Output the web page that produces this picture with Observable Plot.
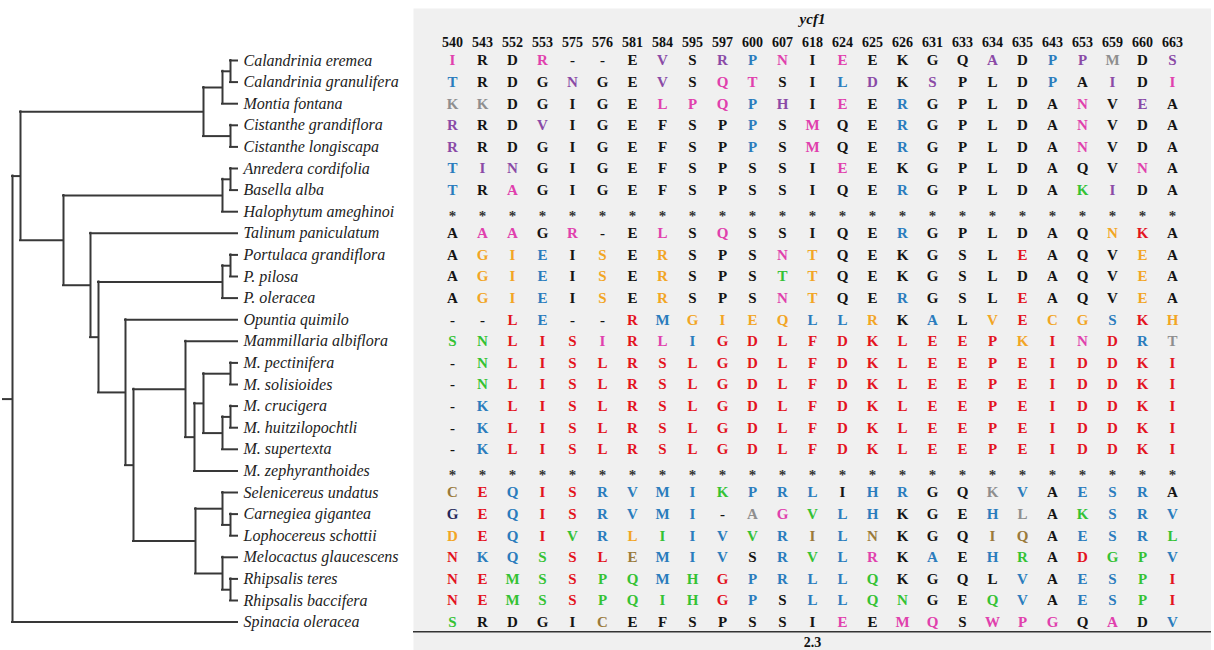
<!DOCTYPE html>
<html><head><meta charset="utf-8">
<script src="https://cdn.jsdelivr.net/npm/d3@7"></script>
<script src="https://cdn.jsdelivr.net/npm/@observablehq/plot@0.6"></script>
<style>
body{margin:0;background:#fff;font-family:"Liberation Serif",serif;}
#wrap{position:relative;width:1214px;height:650px;overflow:hidden;}
#tree{position:absolute;left:0;top:0;}
#aln{position:absolute;left:413px;top:0;}
</style></head><body><div id="wrap"><div id="tree"></div><div id="aln"></div></div>
<script>
// ---------- data ----------
const taxa = ["Calandrinia eremea","Calandrinia granulifera","Montia fontana","Cistanthe grandiflora","Cistanthe longiscapa","Anredera cordifolia","Basella alba","Halophytum ameghinoi","Talinum paniculatum","Portulaca grandiflora","P. pilosa","P. oleracea","Opuntia quimilo","Mammillaria albiflora","M. pectinifera","M. solisioides","M. crucigera","M. huitzilopochtli","M. supertexta","M. zephyranthoides","Selenicereus undatus","Carnegiea gigantea","Lophocereus schottii","Melocactus glaucescens","Rhipsalis teres","Rhipsalis baccifera","Spinacia oleracea"];
const leafParent = ["n_cal","n_cal","n_cm","n_cis","n_cis","n_ab","n_ab","n_bas","n_C","n_pg","n_pg","n_por","n_cact","n_mam","n_ps","n_ps","n_ch","n_ch","n_J","n_H","n_K","n_cl","n_cl","n_M","n_rh","n_rh","root"];
const nodeIds    = ["root","n_in","n_mont","n_cm","n_cal","n_cis","n_B","n_bas","n_ab","n_C","n_D","n_por","n_pg","n_cact","n_F","n_mam","n_H","n_I","n_ps","n_J","n_ch","n_L","n_K","n_cl","n_M","n_rh"];
const nodeParent = [null,"root","n_in","n_mont","n_cm","n_mont","n_in","n_B","n_bas","n_B","n_C","n_D","n_por","n_D","n_cact","n_F","n_mam","n_H","n_I","n_I","n_J","n_F","n_L","n_K","n_L","n_M"];
const nodeDepth  = [0,8,191,210,218,218,51,210,218,78,86,210,218,113,121,173,182,191,218,210,218,183,210,218,210,218];
const tipDepth = 225;
const rootStub = 9;
const treeScaleLabel = "2.3";
const gene = "ycf1";

const positions = ["540","543","552","553","575","576","581","584","595","597","600","607","618","624","625","626","631","633","634","635","643","653","659","660","663"];
const residues = [
 "IRDR--EVSRPNIEEKGQADPPMDS",
 "TRDGNGEVSQTSILDKSPLDPAIDI",
 "KKDGIGELPQPHIEERGPLDANVEA",
 "RRDVIGEFSPPSMQERGPLDANVDA",
 "RRDGIGEFSPPSMQERGPLDANVDA",
 "TINGIGEFSPSSIEEKGPLDAQVNA",
 "TRAGIGEFSPSSIQERGPLDAKIDA",
 "*************************",
 "AAAGR-ELSQSSIQERGPLDAQNKA",
 "AGIEISERSPSNTQEKGSLEAQVEA",
 "AGIEISERSPSTTQEKGSLDAQVEA",
 "AGIEISERSPSNTQERGSLEAQVEA",
 "--LE--RMGIEQLLRKALVECGSKH",
 "SNLISIRLIGDLFDKLEEPKINDRT",
 "-NLISLRSLGDLFDKLEEPEIDDKI",
 "-NLISLRSLGDLFDKLEEPEIDDKI",
 "-KLISLRSLGDLFDKLEEPEIDDKI",
 "-KLISLRSLGDLFDKLEEPEIDDKI",
 "-KLISLRSLGDLFDKLEEPEIDDKI",
 "*************************",
 "CEQISRVMIKPRLIHRGQKVAESRA",
 "GEQISRVMI-AGVLHKGEHLAKSRV",
 "DEQIVRLIIVVRILNKGQIQAESRL",
 "NKQSSLEMIVSRVLRKAEHRADGPV",
 "NEMSSPQMHGPRLLQKGQLVAESPI",
 "NEMSSPQIHGPSLLQNGEQVAESPI",
 "SRDGICEFSPSSIEEMQSWPGQADV"];
// residue class codes (one per residue)
const groups = [
 "pkkpkkkukubpkpkkkkukbugku",
 "bkkkukkukppkkbukukkkbkukp",
 "ggkkkkkpppbukpkbkkkkkpkuk",
 "ukkukkkkkkbkpkkbkkkkkpkkk",
 "ukkkkkkkkkbkpkkbkkkkkpkkk",
 "buukkkkkkkkkkpkkkkkkkkkpk",
 "bkpkkkkkkkkkkkkbkkkkknukk",
 "kkkkkkkkkkkkkkkkkkkkkkkkk",
 "kppkpkkpkpkkkkkbkkkkkkork",
 "koobkokokkkpokkkkkkrkkkok",
 "koobkokokkknokkkkkkkkkkok",
 "koobkokokkkpokkbkkkrkkkok",
 "kkrbkkrbooooobbokbkoroobro".slice(0,12) + "bbokbkoroobro",
 "nnrrrprpbrrrrrrrrrrorprbg",
 "knrrrrrrrrrrrrrrrrrrrrrrr",
 "knrrrrrrrrrrrrrrrrrrrrrrr",
 "kbrrrrrrrrrrrrrrrrrrrrrrr",
 "kbrrrrrrrrrrrrrrrrrrrrrrr",
 "kbrrrrrrrrrrrrrrrrrrrrrrr",
 "kkkkkkkkkkkkkkkkkkkkkkkkk",
 "wrbrrbbbbnbbbkbbkkgbkbbbk",
 "vrbrrbbbbkgpnbbkkkbgknbbb",
 "orbrnbonbbnbwbwkkkwwkbbbn",
 "rbbnrrwbbbkbnbpkbkbnkrnnb",
 "rrnnrnnbnrbbbbnkkkkbkbbnr",
 "rrnnrnnnnrbkbbnnkknbkbbnr",
 "nkkkkwkkkkkkkpkppkpppkpkb"];
const groupCodes = ["k","p","b","u","g","r","o","n","w","v"];
const groupColors = ["#141414","#e040ad","#2a7cbd","#8a4aa6","#8e8e8e","#e3131e","#f2a524","#34c234","#9a7a3a","#25285a"];

// ---------- tree layout ----------
const nodes = new Map();
nodeIds.forEach((id,i)=>nodes.set(id,{id,parent:nodeParent[i],depth:nodeDepth[i],children:[]}));
taxa.forEach((t,i)=>nodes.set("leaf"+i,{id:t,parent:leafParent[i],depth:tipDepth,y:i,children:[]}));
for (const n of nodes.values()) if (n.parent) nodes.get(n.parent).children.push(n);
function setY(n){ if(!n.children.length) return n.y; const ys=n.children.map(setY); n.ymin=Math.min(...ys); n.ymax=Math.max(...ys); n.y=(n.ymin+n.ymax)/2; return n.y; }
const root = nodes.get("root"); setY(root);
const all = [...nodes.values()];
const hseg = all.filter(n=>n.parent).map(n=>({x1:nodes.get(n.parent).depth,x2:n.depth,y:n.y}));
hseg.push({x1:-rootStub,x2:0,y:root.y});
const vseg = all.filter(n=>n.children.length).map(n=>({x:n.depth,y1:n.ymin,y2:n.ymax}));
const leaves = taxa.map((t,i)=>({name:t,y:i}));

const yScale = {domain:[0,taxa.length-1], range:[60,621.6]};
const lineStyle = {stroke:"#383838", strokeWidth:2, strokeLinecap:"square"};

const tree = Plot.plot({
  width:413, height:650, margin:0,
  style:{fontFamily:"Liberation Serif", background:"transparent"},
  x:{domain:[0,tipDepth], range:[12,237], axis:null},
  y:{...yScale, axis:null},
  marks:[
    Plot.ruleY(hseg,{y:"y",x1:"x1",x2:"x2",...lineStyle}),
    Plot.ruleX(vseg,{x:"x",y1:"y1",y2:"y2",...lineStyle}),
    Plot.text(leaves,{x:()=>tipDepth,y:"y",text:"name",dx:6,textAnchor:"start",fontStyle:"italic",fontSize:16,fill:"#222"})
  ]
});
document.getElementById("tree").appendChild(tree);

// ---------- alignment ----------
const cells = [];
taxa.forEach((t,i)=>positions.forEach((p,j)=>cells.push({pos:p,y:i,res:residues[i][j],grp:groups[i][j]})));
const letters = cells.filter(d=>d.res!=="*");
const stars = cells.filter(d=>d.res==="*");

const aln = Plot.plot({
  width:798, height:650, marginTop:8, marginLeft:0, marginRight:0, marginBottom:0,
  style:{fontFamily:"Liberation Serif", background:"transparent"},
  x:{type:"point", domain:positions, range:[17,780], axis:null},
  y:{...yScale, axis:null},
  color:{domain:groupCodes, range:groupColors},
  marks:[
    Plot.frame({fill:"#f0f0f0", stroke:null}),
    Plot.text([gene],{frameAnchor:"top",lineAnchor:"middle",dy:11,fontStyle:"italic",fontWeight:"bold",fontSize:15,fill:"#111"}),
    Plot.text(positions,{x:d=>d,frameAnchor:"top",lineAnchor:"middle",dy:34,fontWeight:"bold",fontSize:14,fill:"#111"}),
    Plot.text(letters,{x:"pos",y:"y",text:"res",fill:"grp",fontWeight:"bold",fontSize:15}),
    Plot.text(stars,{x:"pos",y:"y",text:"res",fill:"#333",fontWeight:"bold",fontSize:15,dy:4}),
    Plot.ruleY([taxa.length-0.55],{stroke:"#333",strokeWidth:1.5}),
    Plot.text([treeScaleLabel],{frameAnchor:"bottom",lineAnchor:"middle",dy:-8,fontWeight:"bold",fontSize:14,fill:"#111"})
  ]
});
document.getElementById("aln").appendChild(aln);
</script></body></html>
